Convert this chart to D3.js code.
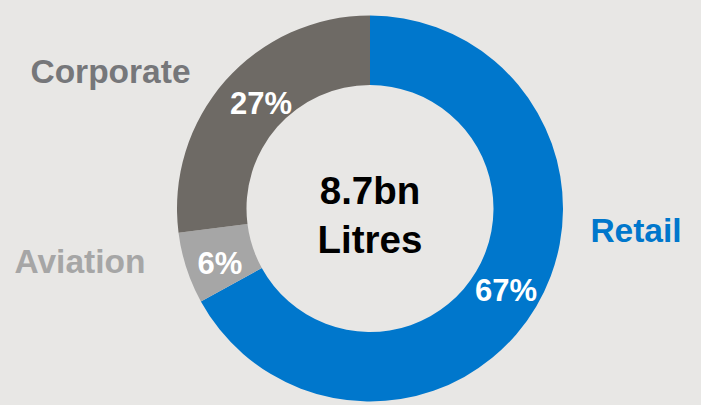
<!DOCTYPE html>
<html><head><meta charset="utf-8">
<script src="https://cdn.jsdelivr.net/npm/d3@7"></script>
<style>html,body{margin:0;padding:0;background:#E8E7E5;}svg{display:block;}</style>
</head><body>
<script>
const categories = ["Retail", "Aviation", "Corporate"];
const shares = [67, 6, 27];
const sliceColors = ["#0077CC", "#A6A6A6", "#6E6A65"];
const labelColors = ["#0077CC", "#A6A6A6", "#76777A"];
const centerLines = ["8.7bn", "Litres"];

const W = 701, H = 405;
const cx = 370, cy = 208.5, rOut = 193, rIn = 123.5;
const svg = d3.select("body").append("svg").attr("width", W).attr("height", H);
svg.append("rect").attr("width", W).attr("height", H).attr("fill", "#E8E7E5");

const data = categories.map((c, i) => ({name: c, value: shares[i], color: sliceColors[i], lc: labelColors[i]}));
const pie = d3.pie().value(d => d.value).sort(null);
const arcs = pie(data);
const arc = d3.arc().innerRadius(rIn).outerRadius(rOut);
const g = svg.append("g").attr("transform", `translate(${cx},${cy})`);
g.selectAll("path").data(arcs).join("path").attr("d", arc).attr("fill", d => d.data.color);

// percentage labels
const pctPos = {Retail: [136, 92], Aviation: [-150, 65], Corporate: [-109, -95]};
g.selectAll("text.pct").data(arcs).join("text").attr("class", "pct")
  .attr("x", d => pctPos[d.data.name][0]).attr("y", d => pctPos[d.data.name][1])
  .attr("text-anchor", "middle")
  .attr("font-family", "Liberation Sans, Arial, sans-serif").attr("font-weight", "bold")
  .attr("font-size", 31).attr("fill", "#fff")
  .text(d => d.data.value + "%");

// category labels
const catPos = {Retail: [636, 242], Aviation: [80, 273], Corporate: [110.5, 83]};
svg.selectAll("text.cat").data(data).join("text").attr("class", "cat")
  .attr("x", d => catPos[d.name][0]).attr("y", d => catPos[d.name][1])
  .attr("text-anchor", "middle")
  .attr("font-family", "Liberation Sans, Arial, sans-serif").attr("font-weight", "bold")
  .attr("font-size", 33.5).attr("fill", d => d.lc)
  .text(d => d.name);

// center text
svg.selectAll("text.ctr").data(centerLines).join("text").attr("class", "ctr")
  .attr("x", cx).attr("y", (d, i) => 204 + i * 49)
  .attr("text-anchor", "middle")
  .attr("font-family", "Liberation Sans, Arial, sans-serif").attr("font-weight", "bold")
  .attr("font-size", 38.5).attr("fill", "#000")
  .text(d => d);
</script>
</body></html>
